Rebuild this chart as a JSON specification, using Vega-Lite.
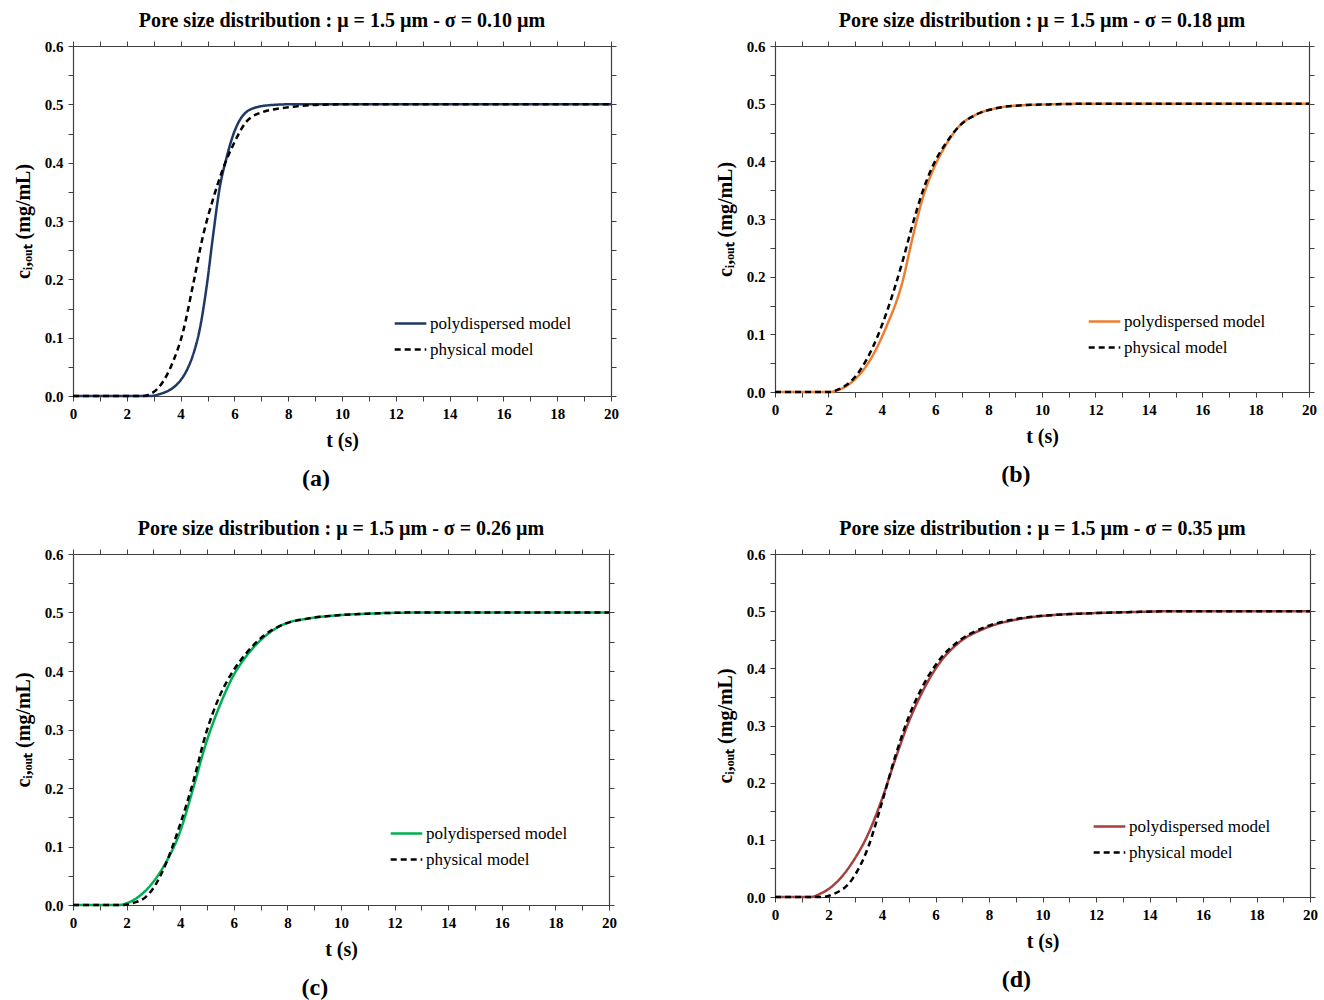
{
  "$schema": "https://vega.github.io/schema/vega-lite/v6.json",
  "background": "white",
  "padding": {"left": 13, "top": 11, "right": 5, "bottom": 0},
  "datasets": {
    "curves": [
      {"p":"a","s":"polydispersed model","t":0,"c":0},{"p":"a","s":"polydispersed model","t":2.9,"c":0},{"p":"a","s":"polydispersed model","t":3.2,"c":0.003},{"p":"a","s":"polydispersed model","t":3.5,"c":0.008},{"p":"a","s":"polydispersed model","t":3.72,"c":0.014},{"p":"a","s":"polydispersed model","t":4.0,"c":0.027},{"p":"a","s":"polydispersed model","t":4.25,"c":0.046},{"p":"a","s":"polydispersed model","t":4.5,"c":0.076},{"p":"a","s":"polydispersed model","t":4.71,"c":0.114},{"p":"a","s":"polydispersed model","t":4.96,"c":0.185},{"p":"a","s":"polydispersed model","t":5.21,"c":0.276},{"p":"a","s":"polydispersed model","t":5.45,"c":0.356},{"p":"a","s":"polydispersed model","t":5.7,"c":0.407},{"p":"a","s":"polydispersed model","t":5.95,"c":0.447},{"p":"a","s":"polydispersed model","t":6.32,"c":0.481},{"p":"a","s":"polydispersed model","t":6.82,"c":0.495},{"p":"a","s":"polydispersed model","t":7.44,"c":0.499},{"p":"a","s":"polydispersed model","t":8,"c":0.5},{"p":"a","s":"polydispersed model","t":10,"c":0.5},{"p":"a","s":"polydispersed model","t":20,"c":0.5},
      {"p":"a","s":"physical model","t":0,"c":0},{"p":"a","s":"physical model","t":2.6,"c":0},{"p":"a","s":"physical model","t":2.8,"c":0.002},{"p":"a","s":"physical model","t":3.23,"c":0.017},{"p":"a","s":"physical model","t":3.72,"c":0.059},{"p":"a","s":"physical model","t":4.09,"c":0.11},{"p":"a","s":"physical model","t":4.46,"c":0.19},{"p":"a","s":"physical model","t":4.84,"c":0.276},{"p":"a","s":"physical model","t":5.21,"c":0.338},{"p":"a","s":"physical model","t":5.58,"c":0.39},{"p":"a","s":"physical model","t":5.95,"c":0.43},{"p":"a","s":"physical model","t":6.44,"c":0.47},{"p":"a","s":"physical model","t":7.06,"c":0.487},{"p":"a","s":"physical model","t":7.55,"c":0.492},{"p":"a","s":"physical model","t":8.2,"c":0.496},{"p":"a","s":"physical model","t":9,"c":0.499},{"p":"a","s":"physical model","t":10,"c":0.5},{"p":"a","s":"physical model","t":20,"c":0.5},
      {"p":"b","s":"polydispersed model","t":0,"c":0},{"p":"b","s":"polydispersed model","t":2.05,"c":0},{"p":"b","s":"polydispersed model","t":2.4,"c":0.004},{"p":"b","s":"polydispersed model","t":2.9,"c":0.018},{"p":"b","s":"polydispersed model","t":3.53,"c":0.053},{"p":"b","s":"polydispersed model","t":4.15,"c":0.111},{"p":"b","s":"polydispersed model","t":4.78,"c":0.192},{"p":"b","s":"polydispersed model","t":5.15,"c":0.267},{"p":"b","s":"polydispersed model","t":5.53,"c":0.336},{"p":"b","s":"polydispersed model","t":5.9,"c":0.383},{"p":"b","s":"polydispersed model","t":6.41,"c":0.429},{"p":"b","s":"polydispersed model","t":6.9,"c":0.461},{"p":"b","s":"polydispersed model","t":7.53,"c":0.481},{"p":"b","s":"polydispersed model","t":8.28,"c":0.492},{"p":"b","s":"polydispersed model","t":9.16,"c":0.497},{"p":"b","s":"polydispersed model","t":10.5,"c":0.499},{"p":"b","s":"polydispersed model","t":12,"c":0.5},{"p":"b","s":"polydispersed model","t":20,"c":0.5},
      {"p":"b","s":"physical model","t":0,"c":0},{"p":"b","s":"physical model","t":2.05,"c":0},{"p":"b","s":"physical model","t":2.4,"c":0.005},{"p":"b","s":"physical model","t":2.9,"c":0.021},{"p":"b","s":"physical model","t":3.53,"c":0.065},{"p":"b","s":"physical model","t":4.15,"c":0.134},{"p":"b","s":"physical model","t":4.78,"c":0.227},{"p":"b","s":"physical model","t":5.15,"c":0.29},{"p":"b","s":"physical model","t":5.53,"c":0.348},{"p":"b","s":"physical model","t":5.9,"c":0.391},{"p":"b","s":"physical model","t":6.41,"c":0.432},{"p":"b","s":"physical model","t":6.9,"c":0.461},{"p":"b","s":"physical model","t":7.53,"c":0.481},{"p":"b","s":"physical model","t":8.28,"c":0.492},{"p":"b","s":"physical model","t":9.16,"c":0.497},{"p":"b","s":"physical model","t":10.5,"c":0.499},{"p":"b","s":"physical model","t":12,"c":0.5},{"p":"b","s":"physical model","t":20,"c":0.5},
      {"p":"c","s":"polydispersed model","t":0,"c":0},{"p":"c","s":"polydispersed model","t":1.7,"c":0},{"p":"c","s":"polydispersed model","t":2.0,"c":0.003},{"p":"c","s":"polydispersed model","t":2.35,"c":0.011},{"p":"c","s":"polydispersed model","t":2.72,"c":0.025},{"p":"c","s":"polydispersed model","t":2.97,"c":0.038},{"p":"c","s":"polydispersed model","t":3.47,"c":0.073},{"p":"c","s":"polydispersed model","t":3.97,"c":0.122},{"p":"c","s":"polydispersed model","t":4.47,"c":0.197},{"p":"c","s":"polydispersed model","t":4.96,"c":0.276},{"p":"c","s":"polydispersed model","t":5.46,"c":0.339},{"p":"c","s":"polydispersed model","t":5.96,"c":0.39},{"p":"c","s":"polydispersed model","t":6.46,"c":0.425},{"p":"c","s":"polydispersed model","t":7.08,"c":0.456},{"p":"c","s":"polydispersed model","t":7.82,"c":0.479},{"p":"c","s":"polydispersed model","t":8.82,"c":0.49},{"p":"c","s":"polydispersed model","t":9.81,"c":0.495},{"p":"c","s":"polydispersed model","t":11,"c":0.498},{"p":"c","s":"polydispersed model","t":13,"c":0.5},{"p":"c","s":"polydispersed model","t":20,"c":0.5},
      {"p":"c","s":"physical model","t":0,"c":0},{"p":"c","s":"physical model","t":1.9,"c":0},{"p":"c","s":"physical model","t":2.2,"c":0.003},{"p":"c","s":"physical model","t":2.72,"c":0.014},{"p":"c","s":"physical model","t":2.97,"c":0.027},{"p":"c","s":"physical model","t":3.47,"c":0.071},{"p":"c","s":"physical model","t":3.97,"c":0.134},{"p":"c","s":"physical model","t":4.47,"c":0.208},{"p":"c","s":"physical model","t":4.96,"c":0.293},{"p":"c","s":"physical model","t":5.46,"c":0.356},{"p":"c","s":"physical model","t":5.96,"c":0.399},{"p":"c","s":"physical model","t":6.46,"c":0.43},{"p":"c","s":"physical model","t":7.08,"c":0.459},{"p":"c","s":"physical model","t":7.82,"c":0.479},{"p":"c","s":"physical model","t":8.82,"c":0.49},{"p":"c","s":"physical model","t":9.81,"c":0.495},{"p":"c","s":"physical model","t":11,"c":0.498},{"p":"c","s":"physical model","t":13,"c":0.5},{"p":"c","s":"physical model","t":20,"c":0.5},
      {"p":"d","s":"polydispersed model","t":0,"c":0},{"p":"d","s":"polydispersed model","t":1.35,"c":0},{"p":"d","s":"polydispersed model","t":1.7,"c":0.006},{"p":"d","s":"polydispersed model","t":2.12,"c":0.018},{"p":"d","s":"polydispersed model","t":2.87,"c":0.059},{"p":"d","s":"polydispersed model","t":3.49,"c":0.111},{"p":"d","s":"polydispersed model","t":3.99,"c":0.17},{"p":"d","s":"polydispersed model","t":4.49,"c":0.24},{"p":"d","s":"polydispersed model","t":4.98,"c":0.304},{"p":"d","s":"polydispersed model","t":5.48,"c":0.356},{"p":"d","s":"polydispersed model","t":6.1,"c":0.406},{"p":"d","s":"polydispersed model","t":6.85,"c":0.444},{"p":"d","s":"polydispersed model","t":7.85,"c":0.47},{"p":"d","s":"polydispersed model","t":9.1,"c":0.486},{"p":"d","s":"polydispersed model","t":10.34,"c":0.493},{"p":"d","s":"polydispersed model","t":11.59,"c":0.496},{"p":"d","s":"polydispersed model","t":13,"c":0.498},{"p":"d","s":"polydispersed model","t":15,"c":0.5},{"p":"d","s":"polydispersed model","t":20,"c":0.5},
      {"p":"d","s":"physical model","t":0,"c":0},{"p":"d","s":"physical model","t":1.8,"c":0},{"p":"d","s":"physical model","t":2.12,"c":0.004},{"p":"d","s":"physical model","t":2.87,"c":0.03},{"p":"d","s":"physical model","t":3.49,"c":0.088},{"p":"d","s":"physical model","t":3.99,"c":0.164},{"p":"d","s":"physical model","t":4.49,"c":0.245},{"p":"d","s":"physical model","t":4.98,"c":0.313},{"p":"d","s":"physical model","t":5.48,"c":0.365},{"p":"d","s":"physical model","t":6.1,"c":0.412},{"p":"d","s":"physical model","t":6.85,"c":0.447},{"p":"d","s":"physical model","t":7.85,"c":0.472},{"p":"d","s":"physical model","t":9.1,"c":0.487},{"p":"d","s":"physical model","t":10.34,"c":0.493},{"p":"d","s":"physical model","t":11.59,"c":0.496},{"p":"d","s":"physical model","t":13,"c":0.498},{"p":"d","s":"physical model","t":15,"c":0.5},{"p":"d","s":"physical model","t":20,"c":0.5}
    ]
  },
  "data": {"name": "curves"},
  "columns": 2,
  "spacing": {"row": 28, "column": 96},
  "concat": [
    {
      "title": {"text": "(a)", "orient": "bottom", "fontSize": 24, "offset": 17},
      "vconcat": [{
        "title": "Pore size distribution  : μ = 1.5 µm - σ = 0.10 µm",
        "width": 538, "height": 350,
        "transform": [{"filter": "datum.p === 'a'"}],
        "layer": [
          {"transform": [{"filter": "datum.s === 'polydispersed model'"}],
           "mark": {"type": "line", "strokeWidth": 2.5, "interpolate": "monotone"},
           "encoding": {
             "x": {"field": "t", "type": "quantitative", "scale": {"domain": [0, 20]}, "axis": {"title": "t (s)", "values": [0,1,2,3,4,5,6,7,8,9,10,11,12,13,14,15,16,17,18,19,20], "labelExpr": "datum.value % 2 === 0 ? datum.value : ''"}},
             "y": {"field": "c", "type": "quantitative", "scale": {"domain": [0, 0.6]}, "axis": {"title": "cᵢ,ₒᵤₜ (mg/mL)", "values": [0,0.05,0.1,0.15,0.2,0.25,0.3,0.35,0.4,0.45,0.5,0.55,0.6], "labelExpr": "round(datum.value*100) % 10 === 0 ? format(datum.value, '.1f') : ''"}},
             "color": {"field": "s", "type": "nominal", "scale": {"domain": ["polydispersed model", "physical model"], "range": ["#1F3864", "#000000"]}, "legend": {"orient": "none", "legendX": 320, "legendY": 260}},
             "strokeDash": {"field": "s", "type": "nominal", "scale": {"domain": ["polydispersed model", "physical model"], "range": [[1, 0], [6, 4]]}}
           }},
          {"transform": [{"filter": "datum.s === 'physical model'"}],
           "mark": {"type": "line", "strokeWidth": 2.5, "interpolate": "monotone"},
           "encoding": {
             "x": {"field": "t", "type": "quantitative", "axis": null},
             "y": {"field": "c", "type": "quantitative", "axis": null},
             "color": {"field": "s", "type": "nominal"},
             "strokeDash": {"field": "s", "type": "nominal"}
           }},
          {"mark": {"type": "line", "opacity": 0},
           "encoding": {
             "x": {"field": "t", "type": "quantitative", "axis": {"orient": "top", "title": null, "labels": false, "values": [0,1,2,3,4,5,6,7,8,9,10,11,12,13,14,15,16,17,18,19,20]}},
             "y": {"field": "c", "type": "quantitative", "axis": {"orient": "right", "title": null, "labels": false, "values": [0,0.05,0.1,0.15,0.2,0.25,0.3,0.35,0.4,0.45,0.5,0.55,0.6]}}
           }}
        ],
        "resolve": {"axis": {"x": "independent", "y": "independent"}}
      }]
    },
    {
      "title": {"text": "(b)", "orient": "bottom", "fontSize": 24, "offset": 17},
      "vconcat": [{
        "title": "Pore size distribution  : μ = 1.5 µm - σ = 0.18 µm",
        "width": 534, "height": 346,
        "transform": [{"filter": "datum.p === 'b'"}],
        "layer": [
          {"transform": [{"filter": "datum.s === 'polydispersed model'"}],
           "mark": {"type": "line", "strokeWidth": 2.5, "interpolate": "monotone"},
           "encoding": {
             "x": {"field": "t", "type": "quantitative", "scale": {"domain": [0, 20]}, "axis": {"title": "t (s)", "values": [0,1,2,3,4,5,6,7,8,9,10,11,12,13,14,15,16,17,18,19,20], "labelExpr": "datum.value % 2 === 0 ? datum.value : ''"}},
             "y": {"field": "c", "type": "quantitative", "scale": {"domain": [0, 0.6]}, "axis": {"title": "cᵢ,ₒᵤₜ (mg/mL)", "values": [0,0.05,0.1,0.15,0.2,0.25,0.3,0.35,0.4,0.45,0.5,0.55,0.6], "labelExpr": "round(datum.value*100) % 10 === 0 ? format(datum.value, '.1f') : ''"}},
             "color": {"field": "s", "type": "nominal", "scale": {"domain": ["polydispersed model", "physical model"], "range": ["#ED7D31", "#000000"]}, "legend": {"orient": "none", "legendX": 312, "legendY": 258}},
             "strokeDash": {"field": "s", "type": "nominal", "scale": {"domain": ["polydispersed model", "physical model"], "range": [[1, 0], [6, 4]]}}
           }},
          {"transform": [{"filter": "datum.s === 'physical model'"}],
           "mark": {"type": "line", "strokeWidth": 2.5, "interpolate": "monotone"},
           "encoding": {
             "x": {"field": "t", "type": "quantitative", "axis": null},
             "y": {"field": "c", "type": "quantitative", "axis": null},
             "color": {"field": "s", "type": "nominal"},
             "strokeDash": {"field": "s", "type": "nominal"}
           }},
          {"mark": {"type": "line", "opacity": 0},
           "encoding": {
             "x": {"field": "t", "type": "quantitative", "axis": {"orient": "top", "title": null, "labels": false, "values": [0,1,2,3,4,5,6,7,8,9,10,11,12,13,14,15,16,17,18,19,20]}},
             "y": {"field": "c", "type": "quantitative", "axis": {"orient": "right", "title": null, "labels": false, "values": [0,0.05,0.1,0.15,0.2,0.25,0.3,0.35,0.4,0.45,0.5,0.55,0.6]}}
           }}
        ],
        "resolve": {"axis": {"x": "independent", "y": "independent"}}
      }]
    },
    {
      "title": {"text": "(c)", "orient": "bottom", "fontSize": 24, "offset": 17},
      "vconcat": [{
        "title": "Pore size distribution  : μ = 1.5 µm - σ = 0.26 µm",
        "width": 536, "height": 351,
        "transform": [{"filter": "datum.p === 'c'"}],
        "layer": [
          {"transform": [{"filter": "datum.s === 'polydispersed model'"}],
           "mark": {"type": "line", "strokeWidth": 2.5, "interpolate": "monotone"},
           "encoding": {
             "x": {"field": "t", "type": "quantitative", "scale": {"domain": [0, 20]}, "axis": {"title": "t (s)", "values": [0,1,2,3,4,5,6,7,8,9,10,11,12,13,14,15,16,17,18,19,20], "labelExpr": "datum.value % 2 === 0 ? datum.value : ''"}},
             "y": {"field": "c", "type": "quantitative", "scale": {"domain": [0, 0.6]}, "axis": {"title": "cᵢ,ₒᵤₜ (mg/mL)", "values": [0,0.05,0.1,0.15,0.2,0.25,0.3,0.35,0.4,0.45,0.5,0.55,0.6], "labelExpr": "round(datum.value*100) % 10 === 0 ? format(datum.value, '.1f') : ''"}},
             "color": {"field": "s", "type": "nominal", "scale": {"domain": ["polydispersed model", "physical model"], "range": ["#00B050", "#000000"]}, "legend": {"orient": "none", "legendX": 316, "legendY": 262}},
             "strokeDash": {"field": "s", "type": "nominal", "scale": {"domain": ["polydispersed model", "physical model"], "range": [[1, 0], [6, 4]]}}
           }},
          {"transform": [{"filter": "datum.s === 'physical model'"}],
           "mark": {"type": "line", "strokeWidth": 2.5, "interpolate": "monotone"},
           "encoding": {
             "x": {"field": "t", "type": "quantitative", "axis": null},
             "y": {"field": "c", "type": "quantitative", "axis": null},
             "color": {"field": "s", "type": "nominal"},
             "strokeDash": {"field": "s", "type": "nominal"}
           }},
          {"mark": {"type": "line", "opacity": 0},
           "encoding": {
             "x": {"field": "t", "type": "quantitative", "axis": {"orient": "top", "title": null, "labels": false, "values": [0,1,2,3,4,5,6,7,8,9,10,11,12,13,14,15,16,17,18,19,20]}},
             "y": {"field": "c", "type": "quantitative", "axis": {"orient": "right", "title": null, "labels": false, "values": [0,0.05,0.1,0.15,0.2,0.25,0.3,0.35,0.4,0.45,0.5,0.55,0.6]}}
           }}
        ],
        "resolve": {"axis": {"x": "independent", "y": "independent"}}
      }]
    },
    {
      "title": {"text": "(d)", "orient": "bottom", "fontSize": 24, "offset": 17},
      "vconcat": [{
        "title": "Pore size distribution  : μ = 1.5 µm - σ = 0.35 µm",
        "width": 535, "height": 343,
        "transform": [{"filter": "datum.p === 'd'"}],
        "layer": [
          {"transform": [{"filter": "datum.s === 'polydispersed model'"}],
           "mark": {"type": "line", "strokeWidth": 2.5, "interpolate": "monotone"},
           "encoding": {
             "x": {"field": "t", "type": "quantitative", "scale": {"domain": [0, 20]}, "axis": {"title": "t (s)", "values": [0,1,2,3,4,5,6,7,8,9,10,11,12,13,14,15,16,17,18,19,20], "labelExpr": "datum.value % 2 === 0 ? datum.value : ''"}},
             "y": {"field": "c", "type": "quantitative", "scale": {"domain": [0, 0.6]}, "axis": {"title": "cᵢ,ₒᵤₜ (mg/mL)", "values": [0,0.05,0.1,0.15,0.2,0.25,0.3,0.35,0.4,0.45,0.5,0.55,0.6], "labelExpr": "round(datum.value*100) % 10 === 0 ? format(datum.value, '.1f') : ''"}},
             "color": {"field": "s", "type": "nominal", "scale": {"domain": ["polydispersed model", "physical model"], "range": ["#A5403E", "#000000"]}, "legend": {"orient": "none", "legendX": 317, "legendY": 255}},
             "strokeDash": {"field": "s", "type": "nominal", "scale": {"domain": ["polydispersed model", "physical model"], "range": [[1, 0], [6, 4]]}}
           }},
          {"transform": [{"filter": "datum.s === 'physical model'"}],
           "mark": {"type": "line", "strokeWidth": 2.5, "interpolate": "monotone"},
           "encoding": {
             "x": {"field": "t", "type": "quantitative", "axis": null},
             "y": {"field": "c", "type": "quantitative", "axis": null},
             "color": {"field": "s", "type": "nominal"},
             "strokeDash": {"field": "s", "type": "nominal"}
           }},
          {"mark": {"type": "line", "opacity": 0},
           "encoding": {
             "x": {"field": "t", "type": "quantitative", "axis": {"orient": "top", "title": null, "labels": false, "values": [0,1,2,3,4,5,6,7,8,9,10,11,12,13,14,15,16,17,18,19,20]}},
             "y": {"field": "c", "type": "quantitative", "axis": {"orient": "right", "title": null, "labels": false, "values": [0,0.05,0.1,0.15,0.2,0.25,0.3,0.35,0.4,0.45,0.5,0.55,0.6]}}
           }}
        ],
        "resolve": {"axis": {"x": "independent", "y": "independent"}}
      }]
    }
  ],
  "resolve": {"scale": {"color": "independent", "strokeDash": "independent"}, "legend": {"color": "independent", "strokeDash": "independent"}},
  "config": {
    "view": {"stroke": null},
    "font": "Liberation Serif",
    "title": {"font": "Liberation Serif", "fontSize": 20, "fontWeight": "bold", "color": "#000000", "offset": 8, "anchor": "middle"},
    "axis": {
      "grid": false,
      "domainColor": "#404040", "domainWidth": 1.2,
      "tickColor": "#404040", "tickSize": 5, "tickWidth": 1,
      "labelFont": "Liberation Serif", "labelFontWeight": "bold", "labelFontSize": 15, "labelColor": "#000000", "labelPadding": 5,
      "titleFont": "Liberation Serif", "titleFontWeight": "bold", "titleFontSize": 20, "titleColor": "#000000"
    },
    "axisX": {"titlePadding": 9, "labelFlush": false},
    "axisY": {"titlePadding": 11},
    "legend": {
      "title": null,
      "labelFont": "Liberation Serif", "labelFontSize": 17, "labelColor": "#000000",
      "symbolType": "stroke", "symbolStrokeWidth": 2.5, "symbolSize": 1000,
      "rowPadding": 0, "labelOffset": 2
    }
  }
}
